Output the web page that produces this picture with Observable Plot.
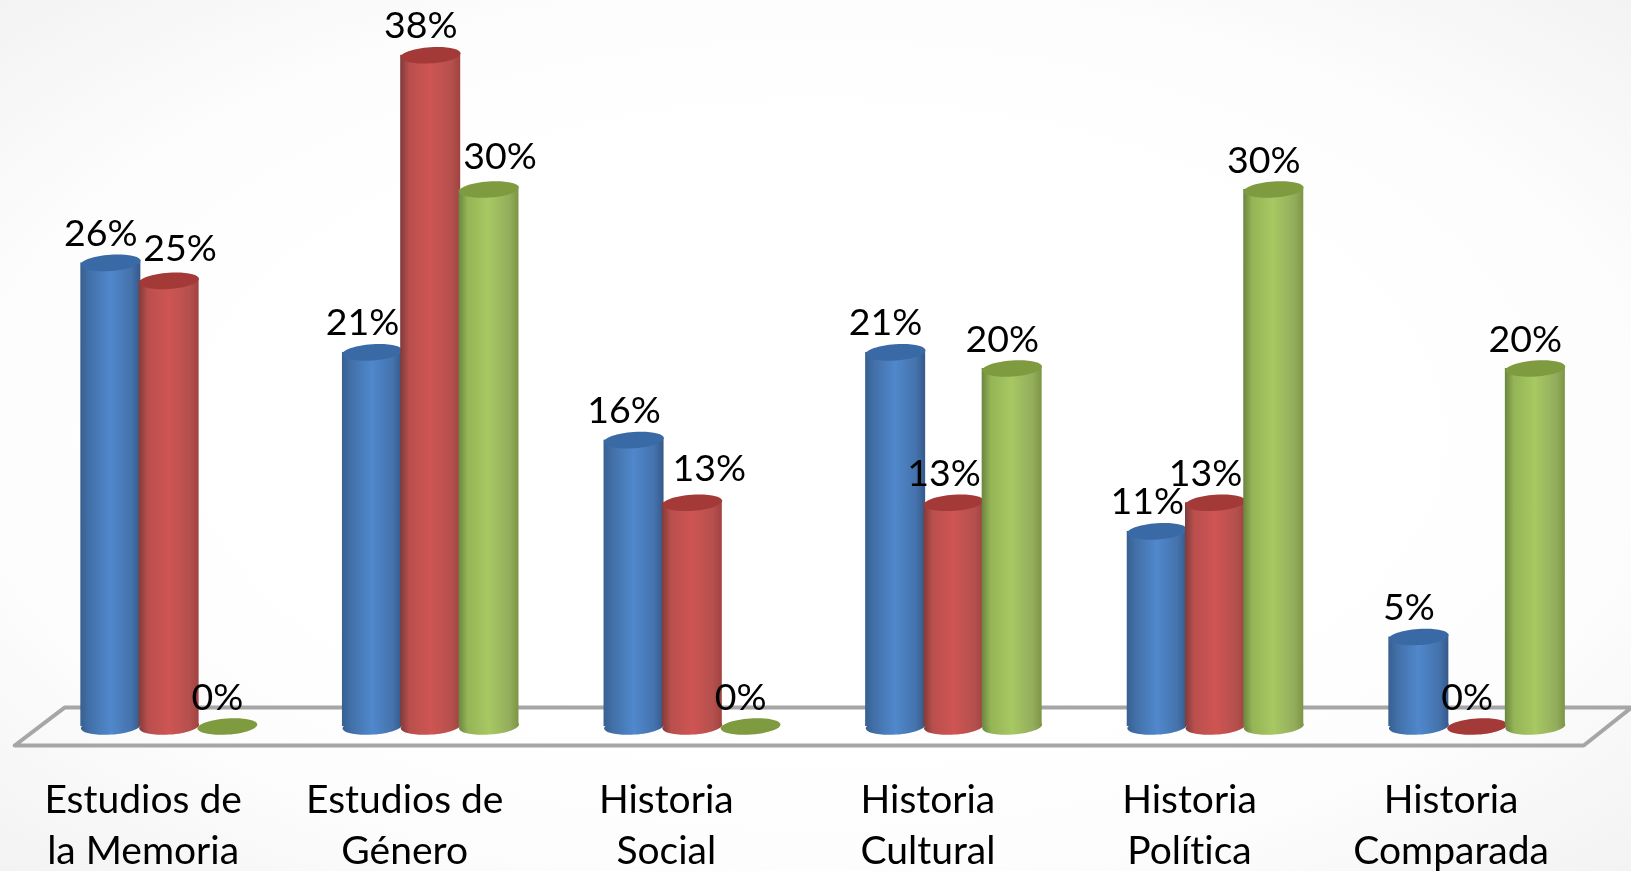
<!DOCTYPE html>
<html lang="es">
<head>
<meta charset="utf-8">
<script src="https://cdn.jsdelivr.net/npm/d3@7"></script>
<script src="https://cdn.jsdelivr.net/npm/@observablehq/plot@0.6"></script>
<style>
html,body{margin:0;padding:0;width:1631px;height:871px;overflow:hidden;background:radial-gradient(ellipse 72% 72% at 50% 50%,#ffffff 45%,#fdfdfd 70%,#f2f2f2 100%);}
svg{display:block;background:transparent !important;filter:blur(0.5px);}
svg text{font-variant-ligatures:none;}
</style>
</head>
<body>
<div id="chart"></div>
<script>
const categories = ["Estudios de\nla Memoria","Estudios de\nGénero","Historia\nSocial","Historia\nCultural","Historia\nPolítica","Historia\nComparada"];
const serieA = [25.9,20.9,16,20.9,10.9,5];
const serieB = [24.9,37.5,12.5,12.5,12.5,0];
const serieC = [0,30,0,20,30,20];
const floorX = [-1.65,-0.795,26.1,25.28,-1.65];
const floorY = [-1.06,1.06,1.06,-1.06,-1.06];

const seriesValues = [serieA,serieB,serieC];
const names = ["a","b","c"];
const tops = ["#3a6aa6","#a33a37","#7f9b40"];
const slotsPerGroup = 4.49;
const rows = seriesValues.map((vals,s)=>vals.map((v,g)=>({g,s,v,u:g*slotsPerGroup+s})));

const ellipse = {draw(ctx,size){
  const rx=Math.sqrt(size/Math.PI), ry=rx*0.27, k=0.5523;
  ctx.moveTo(-rx,0);
  ctx.bezierCurveTo(-rx,-ry*k,-rx*k,-ry,0,-ry);
  ctx.bezierCurveTo(rx*k,-ry,rx,-ry*k,rx,0);
  ctx.bezierCurveTo(rx,ry*k,rx*k,ry,0,ry);
  ctx.bezierCurveTo(-rx*k,ry,-rx,ry*k,-rx,0);
  ctx.closePath();
}};

const stops = [
  ["#37608f","#4270a8","#5088cc","#4472ac","#35598a"],
  ["#7f3b3a","#b94f4d","#ce5553","#b5504d","#a04340"],
  ["#6a8540","#95b556","#a7c862","#93ad5c","#7d9645"]
];
const defs = () => {
  const d = d3.create("svg:defs");
  names.forEach((n,i)=>{
    const g = d.append("linearGradient").attr("id","cyl-"+n).attr("x1",0).attr("x2",1).attr("y1",0).attr("y2",0);
    [0,0.15,0.5,0.85,1].forEach((o,j)=>g.append("stop").attr("offset",o).attr("stop-color",stops[i][j]));
  });
  return d.node();
};

const width=1631,height=871;
const rBar=30, tilt=-4;
const cylinders = rows.flatMap((data,s)=>{
  const fill = `url(#cyl-${names[s]})`;
  const solid = data.filter(d=>d.v>0);
  return [
    Plot.dot(solid,{x:"u",y:()=>0,r:rBar,symbol:ellipse,rotate:tilt,fill}),
    Plot.rect(solid,{x1:d=>d.u-rBar/58.25,x2:d=>d.u+rBar/58.25,y1:()=>0,y2:"v",fill,inset:0}),
    Plot.dot(data,{x:"u",y:"v",r:rBar,symbol:ellipse,rotate:tilt,fill:tops[s]})
  ];
});

const fmt = d=>Math.round(d.v)+"%";
const special = new Map([["0-1",[11,-32]],["1-2",[11,-33]],["2-1",[17,-34]]]);
const all = rows.flat();
const labelMarks = all.map(d=>{
  const n = special.get(d.g+"-"+d.s)||[-10,-29];
  return Plot.text([d],{x:"u",y:"v",text:fmt,dx:n[0],dy:n[1],fontSize:37.5,fill:"#000",fontFamily:"Lato, Carlito, sans-serif"});
});

const catRows = categories.map((c,g)=>({c,u:g*slotsPerGroup+1}));

const plot = Plot.plot({
  width,height,margin:0,
  style:{background:"transparent"},
  x:{type:"linear",domain:[-1.894,26.1],range:[0,width],axis:null},
  y:{type:"linear",domain:[40.56,-8.1],range:[0,height],axis:null},
  marks:[
    defs,
    Plot.line(floorX.map((x,i)=>({x,y:floorY[i]})),{x:"x",y:"y",stroke:"#a6a6a6",strokeWidth:4,strokeLinejoin:"miter"}),
    ...cylinders,
    Plot.text(catRows,{x:"u",y:()=>-2.75,text:"c",dx:-26,lineAnchor:"top",lineHeight:1.33,fontSize:39,fill:"#000",fontFamily:"Lato, Carlito, sans-serif"}),
    ...labelMarks
  ]
});
document.getElementById("chart").append(plot);
</script>
</body>
</html>
